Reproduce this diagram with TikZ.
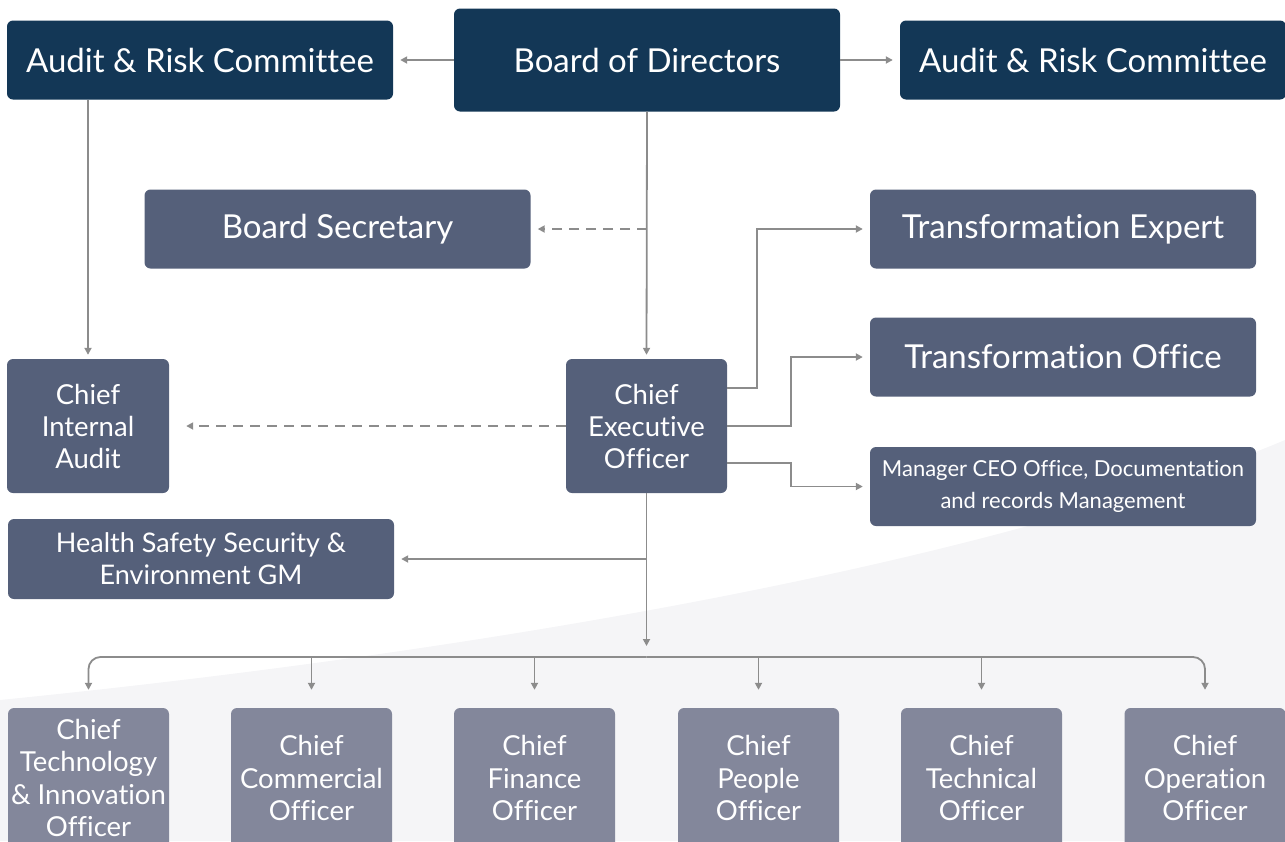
\documentclass[tikz,border=0pt]{standalone}
\usepackage{fontspec}
\setmainfont{Lato}[Ligatures=NoCommon]
\usetikzlibrary{arrows.meta, positioning}
\definecolor{boardnavy}{RGB}{19, 55, 86}
\definecolor{execslate}{RGB}{85, 96, 122}
\definecolor{chiefgrey}{RGB}{131, 135, 155}
\definecolor{linkgrey}{RGB}{140, 140, 140}
\definecolor{curvegrey}{RGB}{245, 245, 247}

\tikzset{
  unit/.style={rectangle, rounded corners=6pt, text=white, align=center, inner sep=0pt},
  boardbox/.style={unit, fill=boardnavy, minimum width=386pt, font=\fontsize{33}{38}\selectfont},
  execbox/.style={unit, fill=execslate, minimum width=386pt, minimum height=79pt, font=\fontsize{33}{38}\selectfont},
  chiefbox/.style={unit, fill=chiefgrey, minimum width=161pt, minimum height=140pt, font=\fontsize{27.5}{32.5}\selectfont},
  link/.style={draw=linkgrey, line width=1.8pt, shorten >=7pt, -{Triangle[length=7pt,width=7pt]}},
}

\begin{document}
\begin{tikzpicture}[x=1pt, y=-1pt]
  \useasboundingbox (0,0) rectangle (1285,841);
  % light background sweep
  \fill[curvegrey] (0,700) .. controls (500,650) and (1000,560) .. (1285,440) -- (1285,841) -- (0,841) -- cycle;

  % board level
  \node[boardbox, minimum height=103pt] (board) at (647,60) {Board of Directors};
  \node[boardbox, minimum height=79pt] (auditL) at (200,60) {Audit \& Risk Committee};
  \node[boardbox, minimum height=79pt] (auditR) at (1093,60) {Audit \& Risk Committee};

  % staff around the CEO
  \node[execbox] (secretary) at (337.5,229) {Board Secretary};
  \node[execbox] (expert) at (1063,229) {Transformation Expert};
  \node[execbox] (office) at (1063,357) {Transformation Office};
  \node[execbox, font=\fontsize{22}{32}\selectfont] (manager) at (1063,486.5) {Manager CEO Office, Documentation\\and records Management};
  \node[execbox, minimum width=162pt, minimum height=134pt, font=\fontsize{27.5}{32}\selectfont] (internal) at (88,426) {Chief\\Internal\\Audit};
  \node[execbox, minimum width=161pt, minimum height=134pt, font=\fontsize{27.5}{32}\selectfont] (ceo) at (646.5,426) {Chief\\Executive\\Officer};
  \node[execbox, minimum height=80pt, font=\fontsize{27}{32}\selectfont] (hsse) at (201,559) {Health Safety Security \&\\Environment GM};

  % chiefs
  \node[chiefbox] (cto) at (88.5,778) {Chief\\Technology\\\& Innovation\\Officer};
  \node[chiefbox] (cco) at (311.5,778) {Chief\\Commercial\\Officer};
  \node[chiefbox] (cfo) at (534.5,778) {Chief\\Finance\\Officer};
  \node[chiefbox] (cpo) at (758.5,778) {Chief\\People\\Officer};
  \node[chiefbox] (ctech) at (981.5,778) {Chief\\Technical\\Officer};
  \node[chiefbox] (coo) at (1205,778) {Chief\\Operation\\Officer};
  \coordinate (bushub) at (646.5,657);

  % connectors
  \draw[link] (board.west) -- (auditL.east);
  \draw[link] (board.east) -- (auditR.west);
  \draw[link, shorten >=4pt] (board.south) -- (ceo.north);
  \draw[link, dashed, dash pattern=on 10pt off 7pt] (board.south |- secretary.east) -- (secretary.east);
  \draw[link, shorten >=4pt] (internal.north |- auditL.south) -- (internal.north);
  \draw[link, dashed, dash pattern=on 10pt off 7pt, shorten >=17pt] (ceo.west) -- (internal.east);
  \draw[link] ([yshift=38pt]ceo.east) -- ++(30,0) |- (expert.west);
  \draw[link] (ceo.east) -- ++(64,0) |- (office.west);
  \draw[link] ([yshift=-37pt]ceo.east) -- ++(64,0) |- (manager.west);
  \draw[link] (ceo.south |- hsse.east) -- (hsse.east);
  \draw[link, shorten >=11pt] (ceo.south) -- (bushub);
  \draw[link, rounded corners=12pt, shorten >=18pt] (bushub) -| (cto.north);
  \draw[link, rounded corners=12pt, shorten >=18pt] (bushub) -| (coo.north);
  \foreach \chief in {cco, cfo, cpo, ctech}
    \draw[link, shorten >=18pt] (\chief.north |- bushub) -- (\chief.north);
\end{tikzpicture}
\end{document}
